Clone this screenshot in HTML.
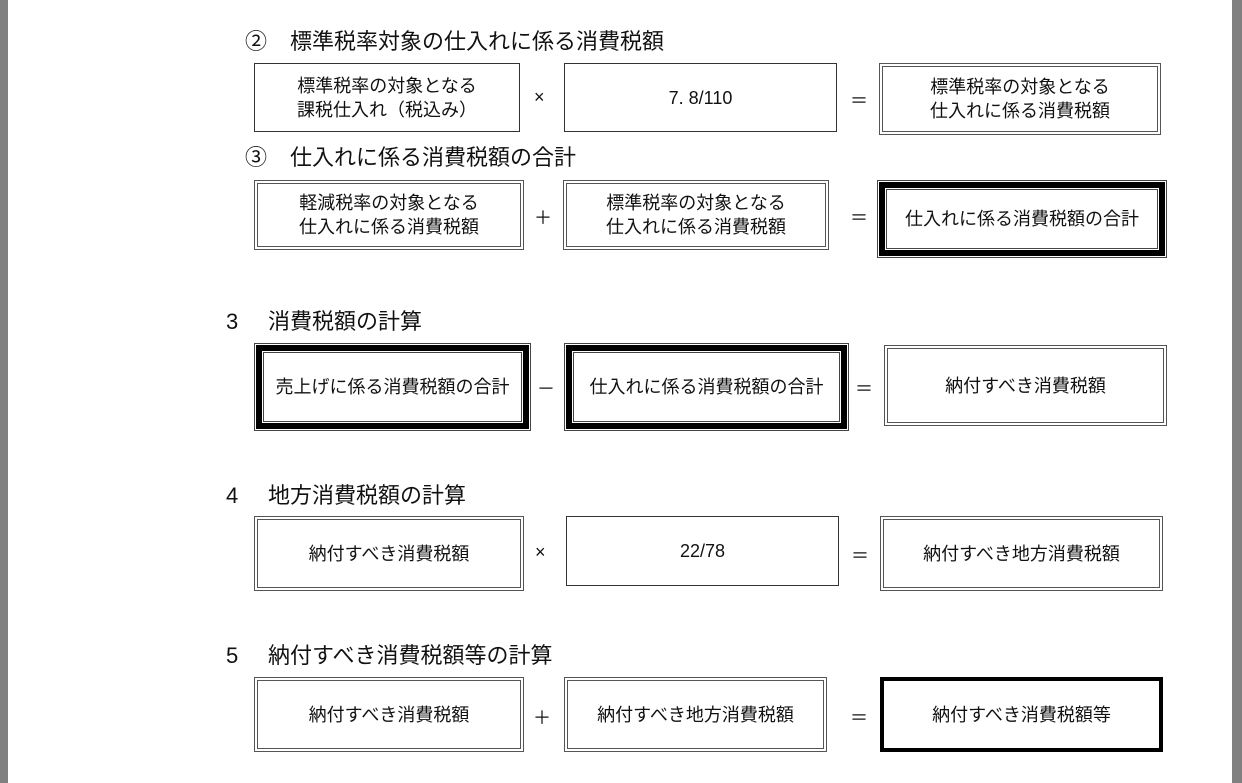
<!DOCTYPE html>
<html><head><meta charset="utf-8"><style>
body{margin:0;width:1242px;height:783px;background:#fff;position:relative;overflow:hidden;font-family:"Liberation Sans","Noto Sans CJK JP",sans-serif;color:#111}
.gl{position:absolute;left:0;top:0;width:8px;height:783px;background:#808080}
.gr{position:absolute;right:0;top:0;width:10px;height:783px;background:#808080}
.b{position:absolute;box-sizing:border-box;display:flex;align-items:center;justify-content:center;text-align:center;font-size:18px;line-height:24px}
.s{border:1px solid #333}
.d{border:4px double #555}
.k{border:1px solid #444}
.k::before{content:"";position:absolute;inset:1px;border:6px solid #000}
.k::after{content:"";position:absolute;inset:8px;border:1px solid #444}
.k span{position:relative;z-index:1}
.x{border:4px solid #000}
.o{position:absolute;font-size:18px}
.h{position:absolute;font-size:22px;line-height:26px;white-space:nowrap}
.h i{font-style:normal;position:absolute}
</style></head><body>
<div class="gl"></div><div class="gr"></div>

<div class="h" style="left:245px;top:29px">②<i style="left:45px">標準税率対象の仕入れに係る消費税額</i></div>
<div class="b s" style="left:254px;top:63px;width:266px;height:69px">標準税率の対象となる<br>課税仕入れ（税込み）</div>
<div class="o" style="left:534px;top:87px">×</div>
<div class="b s" style="left:564px;top:63px;width:273px;height:69px">7. 8/110</div>
<div class="o" style="left:850px;top:87px">＝</div>
<div class="b d" style="left:879px;top:63px;width:282px;height:72px">標準税率の対象となる<br>仕入れに係る消費税額</div>

<div class="h" style="left:245px;top:145px">③<i style="left:45px">仕入れに係る消費税額の合計</i></div>
<div class="b d" style="left:254px;top:180px;width:270px;height:70px">軽減税率の対象となる<br>仕入れに係る消費税額</div>
<div class="o" style="left:534px;top:204px">＋</div>
<div class="b d" style="left:563px;top:180px;width:266px;height:70px">標準税率の対象となる<br>仕入れに係る消費税額</div>
<div class="o" style="left:850px;top:204px">＝</div>
<div class="b k" style="left:877px;top:180px;width:290px;height:78px"><span>仕入れに係る消費税額の合計</span></div>

<div class="h" style="left:226px;top:309px">3<i style="left:42px">消費税額の計算</i></div>
<div class="b k" style="left:254px;top:343px;width:277px;height:88px"><span>売上げに係る消費税額の合計</span></div>
<div class="o" style="left:537px;top:375px">－</div>
<div class="b k" style="left:564px;top:343px;width:285px;height:88px"><span>仕入れに係る消費税額の合計</span></div>
<div class="o" style="left:855px;top:375px">＝</div>
<div class="b d" style="left:884px;top:345px;width:283px;height:81px">納付すべき消費税額</div>

<div class="h" style="left:226px;top:483px">4<i style="left:42px">地方消費税額の計算</i></div>
<div class="b d" style="left:254px;top:516px;width:270px;height:75px">納付すべき消費税額</div>
<div class="o" style="left:535px;top:542px">×</div>
<div class="b s" style="left:566px;top:516px;width:273px;height:70px">22/78</div>
<div class="o" style="left:851px;top:542px">＝</div>
<div class="b d" style="left:880px;top:516px;width:283px;height:75px">納付すべき地方消費税額</div>

<div class="h" style="left:226px;top:643px">5<i style="left:42px">納付すべき消費税額等の計算</i></div>
<div class="b d" style="left:254px;top:677px;width:270px;height:75px">納付すべき消費税額</div>
<div class="o" style="left:533px;top:704px">＋</div>
<div class="b d" style="left:564px;top:677px;width:263px;height:75px">納付すべき地方消費税額</div>
<div class="o" style="left:850px;top:704px">＝</div>
<div class="b x" style="left:880px;top:677px;width:283px;height:75px">納付すべき消費税額等</div>
</body></html>
